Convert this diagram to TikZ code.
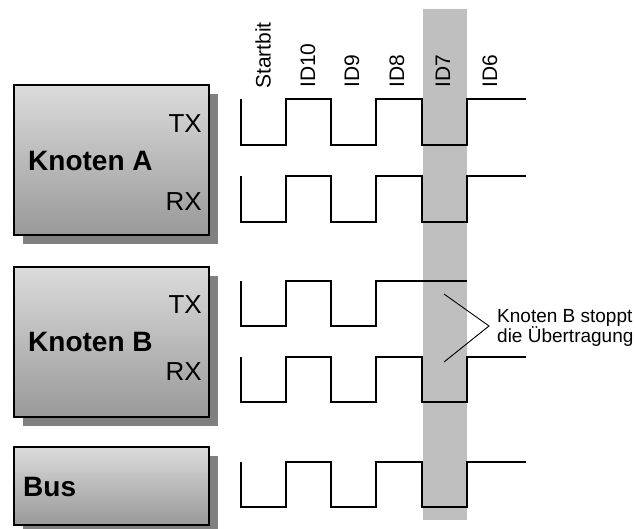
\documentclass[tikz,border=0pt]{standalone}
\usepackage{fontspec}
\setmainfont{Liberation Sans}
\usetikzlibrary{shadows}
\definecolor{boxtop}{gray}{0.86}
\definecolor{boxbot}{gray}{0.6}
\definecolor{shadowgray}{gray}{0.5}
\definecolor{bandgray}{gray}{0.75}
\tikzset{
  box/.style={draw=black, line width=1.5pt, inner sep=0pt, minimum width=195pt,
    top color=boxtop, bottom color=boxbot,
    drop shadow={shadow xshift=9pt, shadow yshift=-9pt, fill=shadowgray, opacity=1}},
  boxtitle/.style={anchor=west, inner sep=0pt, font=\fontsize{28}{32}\selectfont\bfseries},
  port/.style={anchor=east, inner sep=0pt, font=\fontsize{26}{30}\selectfont},
  bitlabel/.style={rotate=90, anchor=west, inner sep=0pt, font=\fontsize{21}{25}\selectfont},
  wave/.style={draw=black, line width=1.8pt, line join=miter},
  brace/.style={draw=black, line width=0.9pt},
  note/.style={anchor=north west, inner sep=0pt, align=left, font=\fontsize{19}{20}\selectfont}
}
\newcommand\fullwave[2]{%
  \draw[wave] (241,#1) |- (286,#2) |- (331,#1) |- (376,#2) |- (422,#1) |- (467,#2) |- (526,#1);}
\begin{document}
\begin{tikzpicture}[x=1pt,y=-1pt]
\useasboundingbox (0,0) rectangle (636,529);
% highlighted bit
\fill[bandgray] (423,9) rectangle (467,520);
% boxes
\node[box, minimum height=150pt] (A) at (111.5,160) {};
\node[box, minimum height=150pt] (B) at (111.5,342) {};
\node[box, minimum height=78pt] (Bus) at (111.5,486) {};
\node[boxtitle] (At) at (28,161) {Knoten A};
\node[port] (Atx) at (202,124) {TX};
\node[port] (Arx) at (202,202) {RX};
\node[boxtitle] (Bt) at (28,342) {Knoten B};
\node[port] (Btx) at (202,305) {TX};
\node[port] (Brx) at (202,372) {RX};
\node[boxtitle] (Bust) at (23,487) {Bus};
% bit labels
\node[bitlabel] (l0) at (263,89) {Startbit};
\node[bitlabel] (l1) at (308,88) {ID10};
\node[bitlabel] (l2) at (352,88) {ID9};
\node[bitlabel] (l3) at (397,88) {ID8};
\node[bitlabel] (l4) at (443,88) {ID7};
\node[bitlabel] (l5) at (490,88) {ID6};
% waveforms
\fullwave{99}{145}
\fullwave{176}{222}
\draw[wave] (241,281) |- (286,326) |- (331,281) |- (376,326) |- (467,281);
\fullwave{357}{402}
\fullwave{462}{507}
% annotation
\coordinate (b1) at (444,294);
\coordinate (b2) at (489,326);
\coordinate (b3) at (444,362);
\draw[brace] (b1) -- (b2) -- (b3);
\node[note] (n) at (497,309.5) {Knoten B stoppt\\die Übertragung};
\end{tikzpicture}
\end{document}
